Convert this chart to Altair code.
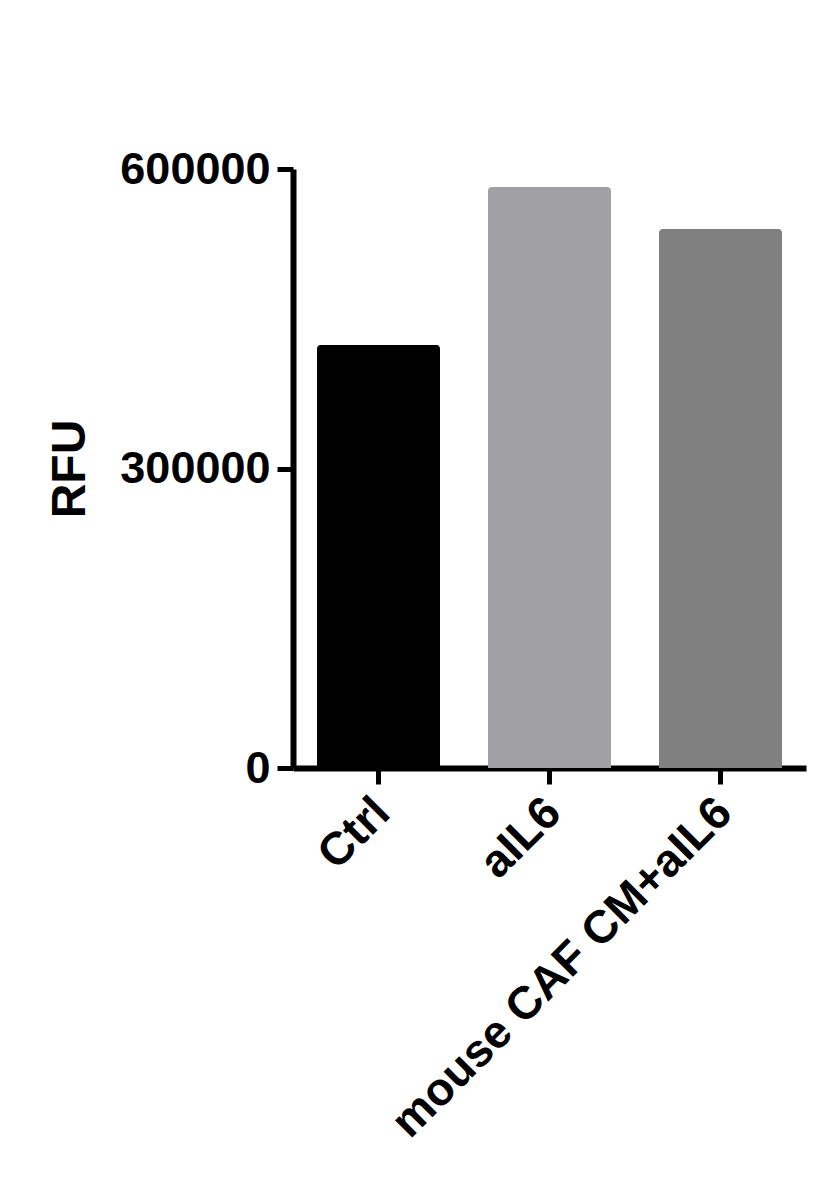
import altair as alt
import pandas as pd

categories = ["Ctrl", "aIL6", "mouse CAF CM+aIL6"]
values = [424000, 582000, 540000]
colors = ["#000000", "#A1A0A5", "#808080"]
y_ticks = [0, 300000, 600000]

df = pd.DataFrame({"group": categories, "rfu": values, "color": colors})

FONT = "Liberation Sans"

chart = alt.Chart(df).mark_bar(
    cornerRadiusTopLeft=4, cornerRadiusTopRight=4
).encode(
    x=alt.X(
        "group:N", sort=categories, title=None,
        scale=alt.Scale(paddingInner=0.28, paddingOuter=0.14),
        axis=alt.Axis(
            labelAngle=-45, labelAlign="right", labelBaseline="middle",
            labelFont=FONT, labelFontSize=46, labelFontWeight="bold", labelColor="black",
            labelPadding=21, labelOffset=4, tickSize=16, tickWidth=5, tickColor="black",
            domainWidth=6, domainColor="black", grid=False, labelLimit=1000,
        ),
    ),
    y=alt.Y(
        "rfu:Q", title="RFU",
        scale=alt.Scale(domain=[0, 600000], nice=False),
        axis=alt.Axis(
            values=y_ticks, format="d",
            labelFont=FONT, labelFontSize=45, labelFontWeight="bold", labelColor="black",
            labelPadding=7, tickSize=16, tickWidth=5, tickColor="black",
            domainWidth=6, domainColor="black", grid=False,
            titleFont=FONT, titleFontSize=48, titleFontWeight="bold", titleColor="black",
            titlePadding=25,
        ),
    ),
    color=alt.Color("color:N", scale=None),
).properties(
    width=513, height=599, autosize="none",
    padding={"left": 285, "top": 161, "right": 20, "bottom": 417},
).configure_view(strokeWidth=0)

chart.save("out.html", embed_options={"renderer": "svg", "actions": False})
